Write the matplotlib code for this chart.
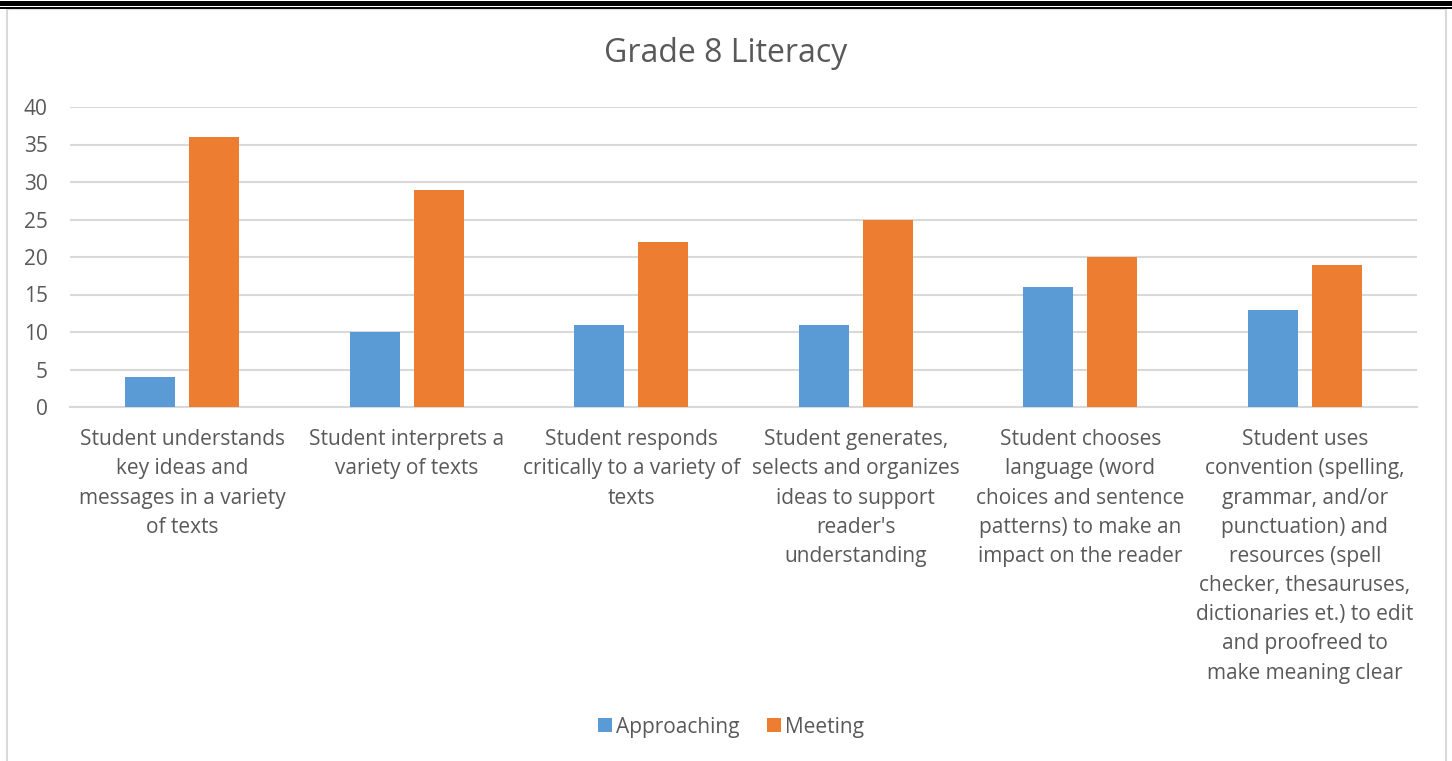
import matplotlib
matplotlib.use("Agg")
import matplotlib.pyplot as plt
from matplotlib.lines import Line2D
from matplotlib.patches import Rectangle
import numpy as np

plt.rcParams['font.family'] = ['Open Sans', 'DejaVu Sans']

categories = [
    "Student understands\nkey ideas and\nmessages in a variety\nof texts",
    "Student interprets a\nvariety of texts",
    "Student responds\ncritically to a variety of\ntexts",
    "Student generates,\nselects and organizes\nideas to support\nreader's\nunderstanding",
    "Student chooses\nlanguage (word\nchoices and sentence\npatterns) to make an\nimpact on the reader",
    "Student uses\nconvention (spelling,\ngrammar, and/or\npunctuation) and\nresources (spell\nchecker, thesauruses,\ndictionaries et.) to edit\nand proofreed to\nmake meaning clear",
]
approaching = [4, 10, 11, 11, 16, 13]
meeting = [36, 29, 22, 25, 20, 19]
series_names = ["Approaching", "Meeting"]
colors = ["#5B9BD5", "#ED7D31"]
yticks = [0, 5, 10, 15, 20, 25, 30, 35, 40]

W, H = 1452, 761
fig = plt.figure(figsize=(W / 100, H / 100), dpi=100)

# outer frame decorations
fig.add_artist(Line2D([0, 1], [1 - 2.5 / H, 1 - 2.5 / H], color="black", lw=3.6, transform=fig.transFigure))
fig.add_artist(Line2D([0, 1], [1 - 7.5 / H, 1 - 7.5 / H], color="black", lw=1.4, transform=fig.transFigure))
fig.add_artist(Rectangle((6.5 / W, -0.1), (1446 - 6.5) / W, 1.1 - 9 / H, fill=False,
                         edgecolor="#d9d9d9", lw=1.5, transform=fig.transFigure))

left, right = 70 / W, 1417 / W
bottom, top = 1 - 407 / H, 1 - 107 / H
ax = fig.add_axes([left, bottom, right - left, top - bottom])

x = np.arange(len(categories))
bw = 0.223
off = 0.1425
ax.bar(x - off, approaching, width=bw, color=colors[0], label=series_names[0], zorder=3)
ax.bar(x + off, meeting, width=bw, color=colors[1], label=series_names[1], zorder=3)

ax.set_xlim(-0.5, len(categories) - 0.5)
ax.set_ylim(0, 40)
ax.set_yticks(yticks)
ax.set_yticklabels([str(v) for v in yticks])
ax.yaxis.grid(True, color="#d9d9d9", lw=1.5, zorder=0)
ax.set_axisbelow(True)
for s in ["top", "right", "left"]:
    ax.spines[s].set_visible(False)
ax.spines["bottom"].set_color("#d9d9d9")
ax.spines["bottom"].set_linewidth(1.5)

ax.set_xticks(x)
ax.set_xticklabels(categories, ha="center", va="top", linespacing=1.51)
ax.tick_params(axis="x", length=0, pad=16, labelsize=15, labelcolor="#595959")
ax.tick_params(axis="y", length=0, pad=16, labelsize=15, labelcolor="#595959")

fig.text(726 / W, 1 - 53 / H, "Grade 8 Literacy", ha="center", va="center",
         fontsize=23, color="#595959")

leg = fig.legend(loc="center", bbox_to_anchor=(731 / W, 1 - 727 / H), ncol=2, frameon=False,
                 fontsize=15, handlelength=0.65, handleheight=0.65, handletextpad=0.2,
                 columnspacing=1.35)
for t in leg.get_texts():
    t.set_color("#595959")

fig.savefig("out.png", dpi=100)
